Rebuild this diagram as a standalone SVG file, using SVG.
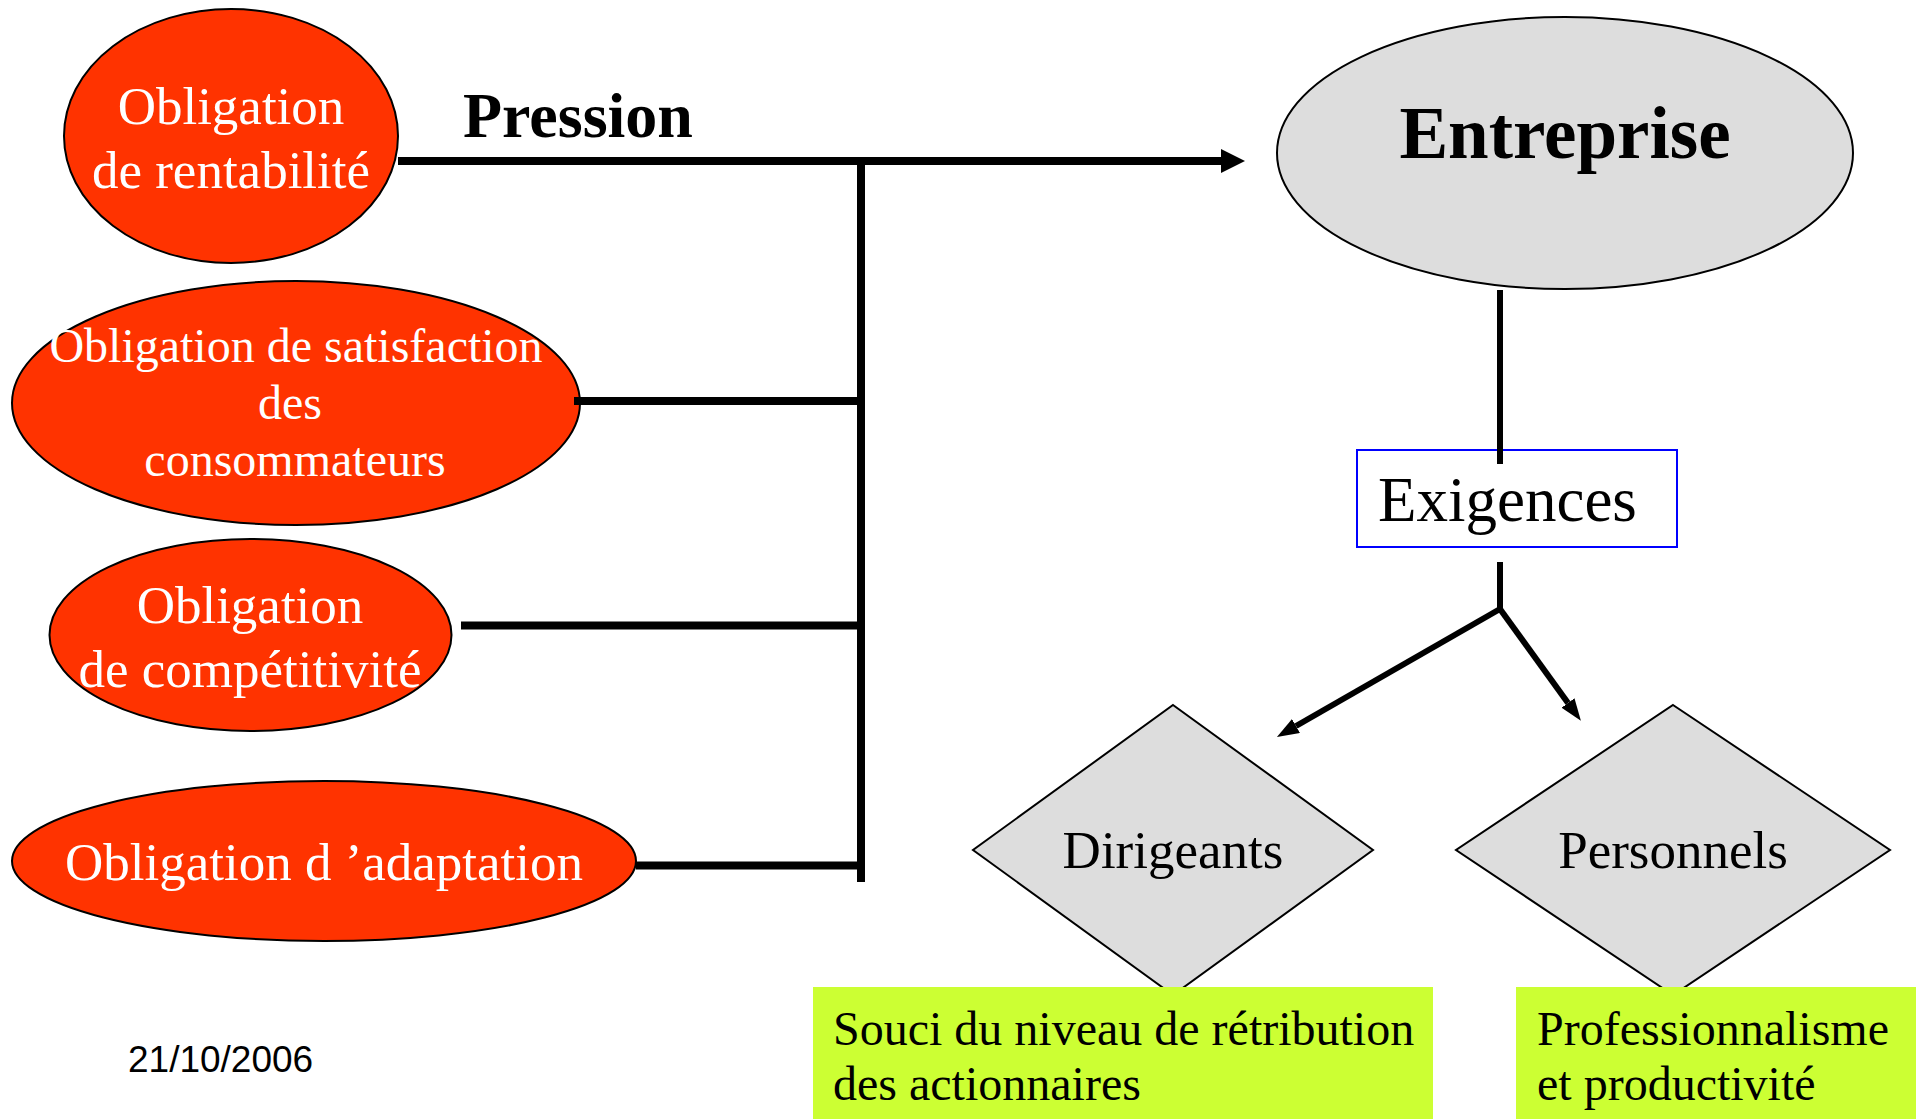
<svg xmlns="http://www.w3.org/2000/svg" width="1916" height="1119" viewBox="0 0 1916 1119">
  <style>
    .obl { fill: #ff3300; stroke: #000; stroke-width: 2; }
    .obl-t { font-family: "Liberation Serif", "Times New Roman", serif; fill: #fff; text-anchor: middle; }
    .grey { fill: #dddddd; stroke: #000; stroke-width: 2; }
    .serif { font-family: "Liberation Serif", "Times New Roman", serif; fill: #000; }
    .mid { text-anchor: middle; }
    .bus { stroke: #000; stroke-width: 8; fill: none; }
    .link { stroke: #000; stroke-width: 6; fill: none; }
    .green { fill: #ccff33; }
  </style>
  <defs>
    <marker id="headBig" markerUnits="userSpaceOnUse" markerWidth="24" markerHeight="24" refX="0" refY="12" orient="auto">
      <path d="M0,0 L24,12 L0,24 z" fill="#000"/>
    </marker>
    <marker id="headSmall" markerUnits="userSpaceOnUse" markerWidth="22" markerHeight="16" refX="0" refY="8" orient="auto">
      <path d="M0,0 L22,8 L0,16 z" fill="#000"/>
    </marker>
  </defs>
  <rect width="1916" height="1119" fill="#fff"/>

  <g id="obligation-rentabilite">
    <ellipse class="obl" cx="231" cy="136" rx="167" ry="127"/>
    <text class="obl-t" font-size="53" x="231" y="124">Obligation</text>
    <text class="obl-t" font-size="53" x="231" y="188">de rentabilité</text>
  </g>

  <g id="obligation-satisfaction">
    <ellipse class="obl" cx="296" cy="403" rx="284" ry="122"/>
    <text class="obl-t" font-size="48" x="296" y="362">Obligation de satisfaction</text>
    <text class="obl-t" font-size="48" x="290" y="419">des</text>
    <text class="obl-t" font-size="48" x="295" y="476">consommateurs</text>
  </g>

  <g id="obligation-competitivite">
    <ellipse class="obl" cx="250.5" cy="635" rx="201" ry="96"/>
    <text class="obl-t" font-size="53" x="250" y="623">Obligation</text>
    <text class="obl-t" font-size="53" x="250" y="687">de compétitivité</text>
  </g>

  <g id="obligation-adaptation">
    <ellipse class="obl" cx="324" cy="861" rx="312" ry="80"/>
    <text class="obl-t" font-size="53" x="324" y="880">Obligation d ’adaptation</text>
  </g>

  <g id="pression-label">
    <text class="serif" font-size="64" font-weight="bold" x="463" y="137">Pression</text>
  </g>

  <g id="entreprise">
    <ellipse class="grey" cx="1565" cy="153" rx="288" ry="136"/>
    <text class="serif mid" font-size="73" font-weight="bold" x="1565" y="158">Entreprise</text>
  </g>

  <g id="exigences">
    <rect x="1357" y="450" width="320" height="97" fill="#fff" stroke="#0000ff" stroke-width="2"/>
    <text class="serif" font-size="63" x="1378" y="521">Exigences</text>
  </g>

  <g id="dirigeants">
    <polygon class="grey" points="1173,705 1373,850 1173,995 973,850"/>
    <text class="serif mid" font-size="53" x="1173" y="868">Dirigeants</text>
  </g>

  <g id="personnels">
    <polygon class="grey" points="1673,705 1890,850 1673,995 1456,850"/>
    <text class="serif mid" font-size="53" x="1673" y="868">Personnels</text>
  </g>

  <g id="souci-retribution">
    <rect class="green" x="813" y="987" width="620" height="132"/>
    <text class="serif" font-size="48" x="833" y="1045">Souci du niveau de rétribution</text>
    <text class="serif" font-size="48" x="833" y="1100">des actionnaires</text>
  </g>

  <g id="professionnalisme">
    <rect class="green" x="1516" y="987" width="400" height="132"/>
    <text class="serif" font-size="48" x="1537" y="1045">Professionnalisme</text>
    <text class="serif" font-size="48" x="1537" y="1100">et productivité</text>
  </g>

  <g id="date">
    <text font-family="Liberation Sans, Arial, sans-serif" font-size="37" x="128" y="1072" fill="#000">21/10/2006</text>
  </g>

  <g id="connectors">
    <line class="bus" x1="398" y1="161" x2="1221" y2="161" marker-end="url(#headBig)"/>
    <line class="bus" x1="861" y1="157" x2="861" y2="882"/>
    <line class="bus" x1="574" y1="401" x2="861" y2="401"/>
    <line class="bus" x1="461" y1="625.5" x2="861" y2="625.5"/>
    <line class="bus" x1="636" y1="865.5" x2="861" y2="865.5"/>
    <line class="link" x1="1500" y1="290" x2="1500" y2="464"/>
    <line class="link" x1="1500" y1="562" x2="1500" y2="609"/>
    <line class="link" x1="1500" y1="609" x2="1296" y2="726" marker-end="url(#headSmall)"/>
    <line class="link" x1="1500" y1="609" x2="1568" y2="703" marker-end="url(#headSmall)"/>
  </g>
</svg>
